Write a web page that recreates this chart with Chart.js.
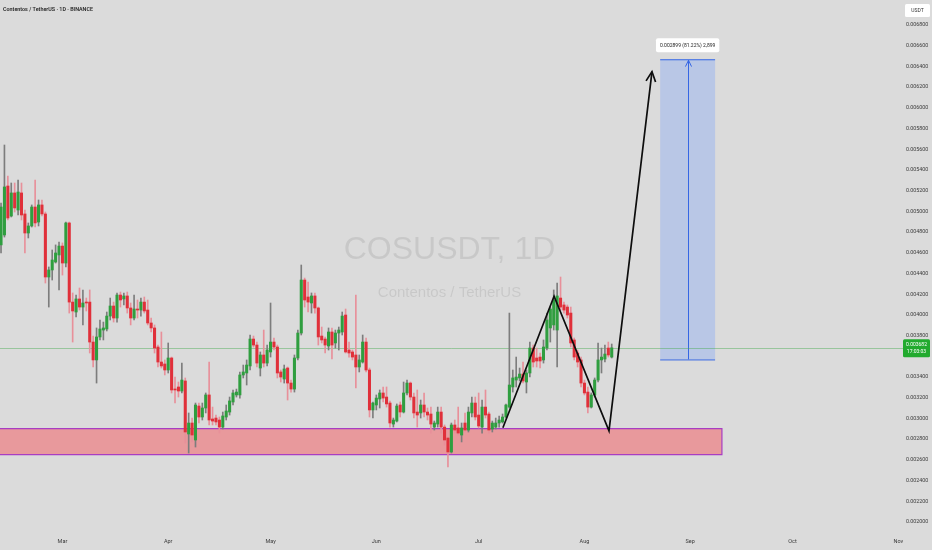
<!DOCTYPE html>
<html><head><meta charset="utf-8">
<script src="https://cdn.jsdelivr.net/npm/chart.js@4.4.1/dist/chart.umd.min.js"></script>
<style>
html,body{margin:0;padding:0;background:#dbdbdb;overflow:hidden}
#wrap{position:relative;width:932px;height:550px}
</style></head><body>
<div id="wrap"><canvas id="c"></canvas></div>
<script>
// Daily candles COS/USDT, first candle = 2025-02-11 (day index 0)
const openP = [0.004676,0.004772,0.005245,0.004955,0.005178,0.005013,0.005178,0.004975,0.004791,0.004859,
0.005042,0.004897,0.005062,0.004975,0.004366,0.004434,0.004511,0.004579,0.004665,0.004501,
0.004888,0.004124,0.004028,0.004154,0.004076,0.004124,0.004124,0.003738,0.003565,0.003787,
0.003854,0.003864,0.003989,0.004086,0.003970,0.004192,0.004154,0.004183,0.004067,0.003970,
0.004057,0.004047,0.004124,0.004047,0.003922,0.003874,0.003690,0.003545,0.003526,0.003468,
0.003584,0.003284,0.003304,0.003265,0.003362,0.002850,0.002956,0.002792,0.003120,0.003014,
0.003101,0.003227,0.002995,0.003004,0.002985,0.002917,0.003014,0.003062,0.003159,0.003227,
0.003227,0.003420,0.003439,0.003507,0.003767,0.003709,0.003487,0.003613,0.003535,0.003642,
0.003738,0.003690,0.003449,0.003381,0.003487,0.003342,0.003284,0.003584,0.003825,0.004337,
0.004173,0.004115,0.004183,0.004067,0.003796,0.003767,0.003700,0.003835,0.003729,0.003825,
0.003835,0.003999,0.003661,0.003642,0.003613,0.003497,0.003545,0.003738,0.003468,0.003082,
0.003130,0.003188,0.003246,0.003207,0.003149,0.002946,0.002975,0.003130,0.003062,0.003246,
0.003342,0.003207,0.003062,0.003053,0.003130,0.003062,0.003043,0.002917,0.002946,0.003062,
0.002917,0.002811,0.002676,0.002937,0.002908,0.002840,0.002956,0.002888,0.003053,0.003149,
0.003033,0.002917,0.003110,0.003043,0.002898,0.002917,0.002956,0.002966,0.003014,0.003110,
0.003304,0.003371,0.003391,0.003429,0.003352,0.003439,0.003680,0.003584,0.003593,0.003565,
0.003680,0.003874,0.003903,0.003854,0.004163,0.004096,0.004076,0.004018,0.003758,0.003632,
0.003565,0.003342,0.003255,0.003110,0.003227,0.003371,0.003565,0.003574,0.003680,0.003593];
const highP = [0.005081,0.005641,0.005342,0.005274,0.005274,0.005303,0.005274,0.005013,0.004888,0.005062,
0.005303,0.005110,0.005110,0.004994,0.004463,0.004627,0.004676,0.004704,0.004695,0.004897,
0.004897,0.004212,0.004192,0.004260,0.004241,0.004163,0.004241,0.003796,0.003874,0.003951,
0.003931,0.004028,0.004163,0.004124,0.004212,0.004221,0.004212,0.004221,0.004115,0.004192,
0.004144,0.004163,0.004173,0.004144,0.003970,0.003903,0.003709,0.003835,0.003565,0.003729,
0.003593,0.003400,0.003352,0.003535,0.003391,0.003053,0.003004,0.003149,0.003149,0.003149,
0.003246,0.003545,0.003110,0.003033,0.003014,0.003062,0.003130,0.003207,0.003275,0.003284,
0.003449,0.003516,0.003565,0.003806,0.003796,0.003738,0.003642,0.003854,0.003709,0.004115,
0.003777,0.003709,0.003468,0.003516,0.003497,0.003371,0.003613,0.003854,0.004482,0.004356,
0.004318,0.004212,0.004212,0.004076,0.003883,0.003787,0.003874,0.003874,0.003854,0.003883,
0.004028,0.004057,0.003738,0.003661,0.004192,0.003613,0.003806,0.003777,0.003487,0.003159,
0.003227,0.003275,0.003304,0.003304,0.003169,0.003004,0.003140,0.003159,0.003352,0.003371,
0.003352,0.003246,0.003275,0.003178,0.003246,0.003101,0.003110,0.002975,0.003110,0.003110,
0.002937,0.002821,0.002956,0.002985,0.003110,0.002956,0.003053,0.003110,0.003207,0.003207,
0.003246,0.003178,0.003275,0.003062,0.002975,0.003004,0.003024,0.003043,0.003140,0.004018,
0.003468,0.003593,0.003487,0.003545,0.003468,0.003738,0.003709,0.003680,0.003632,0.003758,
0.004018,0.004076,0.004241,0.004308,0.004366,0.004124,0.004096,0.004076,0.003777,0.003661,
0.003593,0.003371,0.003304,0.003246,0.003391,0.003729,0.003680,0.003709,0.003738,0.003719];
const lowP = [0.004598,0.004752,0.004917,0.004946,0.004994,0.004965,0.004917,0.004598,0.004743,0.004849,
0.004849,0.004859,0.004955,0.004308,0.004076,0.004337,0.004501,0.004241,0.004385,0.004463,
0.004018,0.003738,0.003980,0.004047,0.003903,0.004038,0.003632,0.003497,0.003342,0.003758,
0.003758,0.003845,0.003951,0.003931,0.003931,0.004076,0.004096,0.004018,0.003903,0.003951,
0.003970,0.003989,0.004018,0.003903,0.003835,0.003632,0.003497,0.003487,0.003420,0.003439,
0.003246,0.003149,0.003207,0.003246,0.002763,0.002666,0.002773,0.002724,0.002956,0.002985,
0.003053,0.002937,0.002937,0.002937,0.002859,0.002898,0.002985,0.003033,0.003130,0.003207,
0.003197,0.003391,0.003323,0.003468,0.003690,0.003497,0.003410,0.003497,0.003507,0.003593,
0.003661,0.003391,0.003352,0.003342,0.003178,0.003255,0.003255,0.003565,0.003806,0.004076,
0.004028,0.004018,0.004018,0.003709,0.003729,0.003632,0.003661,0.003574,0.003680,0.003661,
0.003806,0.003632,0.003593,0.003565,0.003294,0.003449,0.003535,0.003449,0.003014,0.003004,
0.003082,0.003101,0.003159,0.003110,0.002917,0.002917,0.002966,0.003014,0.003053,0.003227,
0.003178,0.003004,0.002917,0.003004,0.003014,0.002985,0.002859,0.002888,0.002917,0.002859,
0.002743,0.002531,0.002666,0.002859,0.002840,0.002773,0.002869,0.002869,0.003014,0.002985,
0.002908,0.002859,0.003004,0.002859,0.002869,0.002898,0.002917,0.002956,0.003004,0.003101,
0.003255,0.003304,0.003362,0.003342,0.003246,0.003400,0.003497,0.003497,0.003487,0.003535,
0.003661,0.003738,0.003854,0.003497,0.004047,0.004018,0.003970,0.003690,0.003565,0.003497,
0.003304,0.003227,0.003053,0.003101,0.003207,0.003352,0.003439,0.003545,0.003593,0.003584];
const closeP = [0.005042,0.005236,0.004936,0.005178,0.005033,0.005187,0.004965,0.004791,0.004859,0.005042,
0.004888,0.005062,0.004975,0.004366,0.004434,0.004530,0.004598,0.004665,0.004501,0.004888,
0.004124,0.004038,0.004154,0.004076,0.004115,0.004115,0.003738,0.003565,0.003787,0.003864,
0.003874,0.003989,0.004086,0.003970,0.004192,0.004144,0.004183,0.004067,0.003970,0.004057,
0.004047,0.004124,0.004038,0.003922,0.003874,0.003680,0.003545,0.003507,0.003468,0.003584,
0.003275,0.003275,0.003265,0.003371,0.002869,0.002956,0.002840,0.003130,0.003014,0.003101,
0.003227,0.002985,0.002975,0.002966,0.002917,0.003024,0.003072,0.003169,0.003246,0.003255,
0.003420,0.003449,0.003516,0.003767,0.003709,0.003535,0.003613,0.003535,0.003661,0.003738,
0.003690,0.003439,0.003400,0.003478,0.003342,0.003284,0.003584,0.003825,0.004337,0.004144,
0.004124,0.004183,0.004067,0.003787,0.003758,0.003709,0.003835,0.003709,0.003825,0.003854,
0.003989,0.003642,0.003632,0.003593,0.003497,0.003565,0.003738,0.003468,0.003082,0.003149,
0.003197,0.003246,0.003197,0.003140,0.002956,0.002985,0.003120,0.003062,0.003246,0.003342,
0.003207,0.003053,0.003033,0.003130,0.003062,0.003033,0.002946,0.002956,0.003062,0.002917,
0.002792,0.002676,0.002937,0.002888,0.002859,0.002908,0.002888,0.003062,0.003149,0.003014,
0.002927,0.003110,0.003033,0.002888,0.002956,0.002956,0.002985,0.003014,0.003130,0.003323,
0.003391,0.003400,0.003429,0.003362,0.003439,0.003680,0.003545,0.003555,0.003555,0.003690,
0.003951,0.004057,0.004144,0.004183,0.004076,0.004047,0.003999,0.003729,0.003593,0.003545,
0.003342,0.003246,0.003110,0.003227,0.003371,0.003565,0.003593,0.003622,0.003613,0.003682];

// axes
const monthTickDays = [18, 49, 79, 110, 140, 171, 202, 232, 263];
const monthTickLabels = ['Mar','Apr','May','Jun','Jul','Aug','Sep','Oct','Nov'];
const priceTicks = [0.0020,0.0022,0.0024,0.0026,0.0028,0.0030,0.0032,0.0034,0.0038,0.0040,
0.0042,0.0044,0.0046,0.0048,0.0050,0.0052,0.0054,0.0056,0.0058,0.0060,0.0062,0.0064,0.0066,0.0068];

// drawings
const supportZonePrices = [0.00265, 0.0029015];
const supportZoneEndDay = 211.3;
const patternDays = [147.1, 162.1, 178.2, 190.8];
const patternPrices = [0.00291, 0.00418, 0.00288, 0.00635];
const targetBoxDays = [193.2, 209.3];
const targetBoxPrices = [0.00357, 0.006469];
const targetLabel = '0.002899 (81.22%) 2,899';
const lastPrice = 0.003682;
const lastPriceLabel = ['0.003682', '17:03:03'];
const titleText = 'Contentos / TetherUS · 1D · BINANCE';
const watermark = ['COSUSDT, 1D', 'Contentos / TetherUS'];
const currencyLabel = 'USDT';

const UP = '#2f9e3f', DOWN = '#e0303a', UPWICK = '#7d7d7d', DOWNWICK = '#e8909a';
const isUp = openP.map((o, i) => closeP[i] >= o);

function arrowHead(ctx, x0, y0, x1, y1, len, color, w) {
  const ang = Math.atan2(y1 - y0, x1 - x0);
  ctx.strokeStyle = color; ctx.lineWidth = w;
  ctx.beginPath();
  ctx.moveTo(x1 - len * Math.cos(ang - 0.45), y1 - len * Math.sin(ang - 0.45));
  ctx.lineTo(x1, y1);
  ctx.lineTo(x1 - len * Math.cos(ang + 0.45), y1 - len * Math.sin(ang + 0.45));
  ctx.stroke();
}
function rrect(ctx, x, y, w, h, r) {
  ctx.beginPath();
  ctx.moveTo(x + r, y); ctx.lineTo(x + w - r, y); ctx.quadraticCurveTo(x + w, y, x + w, y + r);
  ctx.lineTo(x + w, y + h - r); ctx.quadraticCurveTo(x + w, y + h, x + w - r, y + h);
  ctx.lineTo(x + r, y + h); ctx.quadraticCurveTo(x, y + h, x, y + h - r);
  ctx.lineTo(x, y + r); ctx.quadraticCurveTo(x, y, x + r, y); ctx.closePath();
}

const overlay = {
  id: 'overlay',
  beforeDatasetsDraw(chart) {
    const { ctx, chartArea: a, scales: { x, y } } = chart;
    ctx.save();
    // watermark
    const cx = (a.left + a.right) / 2;
    ctx.fillStyle = 'rgba(0,0,0,0.085)';
    ctx.textAlign = 'center'; ctx.textBaseline = 'alphabetic';
    ctx.font = "32px 'Liberation Sans', Arial, sans-serif";
    ctx.fillText(watermark[0], cx, 259);
    ctx.font = "15px 'Liberation Sans', Arial, sans-serif";
    ctx.fillText(watermark[1], cx, 297);
    // support zone
    const zx1 = x.getPixelForValue(supportZoneEndDay);
    const zyT = y.getPixelForValue(supportZonePrices[1]);
    const zyB = y.getPixelForValue(supportZonePrices[0]);
    ctx.fillStyle = '#e8999c';
    ctx.fillRect(a.left - 2, zyT, zx1 - a.left + 2, zyB - zyT);
    ctx.strokeStyle = '#a83dc2'; ctx.lineWidth = 1.2;
    ctx.beginPath();
    ctx.moveTo(a.left - 2, zyT); ctx.lineTo(zx1, zyT); ctx.lineTo(zx1, zyB); ctx.lineTo(a.left - 2, zyB);
    ctx.stroke();
    // target box
    const bx0 = x.getPixelForValue(targetBoxDays[0]), bx1 = x.getPixelForValue(targetBoxDays[1]);
    const byT = y.getPixelForValue(targetBoxPrices[1]), byB = y.getPixelForValue(targetBoxPrices[0]);
    ctx.fillStyle = '#b9c7e6';
    ctx.fillRect(bx0, byT, bx1 - bx0, byB - byT);
    ctx.strokeStyle = '#3566e4'; ctx.lineWidth = 1;
    ctx.beginPath();
    ctx.moveTo(bx0, byT + 0.5); ctx.lineTo(bx1, byT + 0.5);
    ctx.moveTo(bx0, byB + 0.5); ctx.lineTo(bx1, byB + 0.5);
    const bcx = Math.round((bx0 + bx1) / 2) + 0.5;
    ctx.moveTo(bcx, byB); ctx.lineTo(bcx, byT + 1);
    ctx.stroke();
    arrowHead(ctx, bcx, byB, bcx, byT + 1, 7, '#3566e4', 1);
    // last price line
    const py = Math.round(y.getPixelForValue(lastPrice)) + 0.5;
    ctx.strokeStyle = 'rgba(70,170,80,0.45)'; ctx.lineWidth = 1;
    ctx.beginPath(); ctx.moveTo(a.left, py); ctx.lineTo(a.right + 4, py); ctx.stroke();
    ctx.restore();
  },
  afterDatasetsDraw(chart) {
    const { ctx, chartArea: a, scales: { x, y } } = chart;
    ctx.save();
    // pattern arrow head
    const n = patternDays.length;
    arrowHead(ctx, x.getPixelForValue(patternDays[n - 2]), y.getPixelForValue(patternPrices[n - 2]),
      x.getPixelForValue(patternDays[n - 1]), y.getPixelForValue(patternPrices[n - 1]), 11, '#0d0d0d', 1.7);
    // target label
    const bx0 = x.getPixelForValue(targetBoxDays[0]), bx1 = x.getPixelForValue(targetBoxDays[1]);
    const byT = y.getPixelForValue(targetBoxPrices[1]);
    ctx.font = "5px Roboto, sans-serif";
    const tw = ctx.measureText(targetLabel).width;
    const lcx = (bx0 + bx1) / 2;
    ctx.fillStyle = '#ffffff';
    rrect(ctx, lcx - tw / 2 - 4, byT - 21, tw + 8, 14, 2); ctx.fill();
    ctx.fillStyle = '#1e1e1e'; ctx.textAlign = 'center'; ctx.textBaseline = 'middle';
    ctx.fillText(targetLabel, lcx, byT - 14);
    // last price label
    const py = y.getPixelForValue(lastPrice);
    ctx.fillStyle = '#22aa2e';
    rrect(ctx, a.right + 4, py - 8.5, 27, 18, 1.5); ctx.fill();
    ctx.fillStyle = '#ffffff'; ctx.font = "5px Roboto, sans-serif";
    ctx.fillText(lastPriceLabel[0], a.right + 17.5, py - 3.5);
    ctx.fillText(lastPriceLabel[1], a.right + 17.5, py + 3.5);
    // currency box
    ctx.fillStyle = '#ffffff';
    rrect(ctx, a.right + 6, 4, 25, 13, 1.5); ctx.fill();
    ctx.fillStyle = '#333'; ctx.fillText(currencyLabel, a.right + 18.5, 10.5);
    // title
    ctx.textAlign = 'left'; ctx.fillStyle = '#262626';
    ctx.font = "600 5.4px Roboto, sans-serif";
    ctx.fillText(titleText, 3, 9.5);
    ctx.restore();
  }
};

new Chart(document.getElementById('c'), {
  type: 'bar',
  data: {
    datasets: [
      { type: 'line', data: patternDays.map((d, i) => ({ x: d, y: patternPrices[i] })),
        borderColor: '#0d0d0d', borderWidth: 1.7, pointRadius: 0, tension: 0, order: 0 },
      { type: 'bar', data: openP.map((o, i) => ({ x: i, y: [openP[i], closeP[i]] })),
        backgroundColor: isUp.map(u => u ? UP : DOWN), barThickness: 2.4, minBarLength: 1,
        grouped: false, borderWidth: 0, order: 1 },
      { type: 'bar', data: openP.map((o, i) => ({ x: i, y: [lowP[i], highP[i]] })),
        backgroundColor: isUp.map(u => u ? UPWICK : DOWNWICK), barThickness: 1,
        grouped: false, borderWidth: 0, order: 2 }
    ]
  },
  options: {
    responsive: true, maintainAspectRatio: false, animation: false,
    layout: { padding: 0 },
    plugins: { legend: { display: false }, tooltip: { enabled: false } },
    scales: {
      x: { type: 'linear', min: -0.3, max: 263.2, offset: false,
        grid: { display: false, drawTicks: false }, border: { display: false },
        afterBuildTicks(s) { s.ticks = monthTickDays.map(v => ({ value: v })); },
        afterFit(s) { s.height = 20; s.paddingLeft = 0; s.paddingRight = 0; s.paddingTop = 0; s.paddingBottom = 0; },
        ticks: { autoSkip: false, maxRotation: 0, padding: 8, color: '#3a3a3a',
          font: { size: 5.5, family: 'Roboto' },
          callback(v) { const k = monthTickDays.indexOf(v); return k >= 0 ? monthTickLabels[k] : ''; } } },
      y: { type: 'linear', position: 'right', min: 0.0019227, max: 0.0070414,
        grid: { display: false, drawTicks: false }, border: { display: false },
        afterBuildTicks(s) { s.ticks = priceTicks.map(v => ({ value: v })); },
        afterFit(s) { s.width = 33; s.paddingTop = 0; s.paddingBottom = 0; s.paddingLeft = 0; s.paddingRight = 0; },
        ticks: { padding: 7, color: '#3a3a3a', font: { size: 5.3, family: 'Roboto' },
          callback(v) { return v.toFixed(6); } } }
    }
  },
  plugins: [overlay]
});
</script>
</body></html>
